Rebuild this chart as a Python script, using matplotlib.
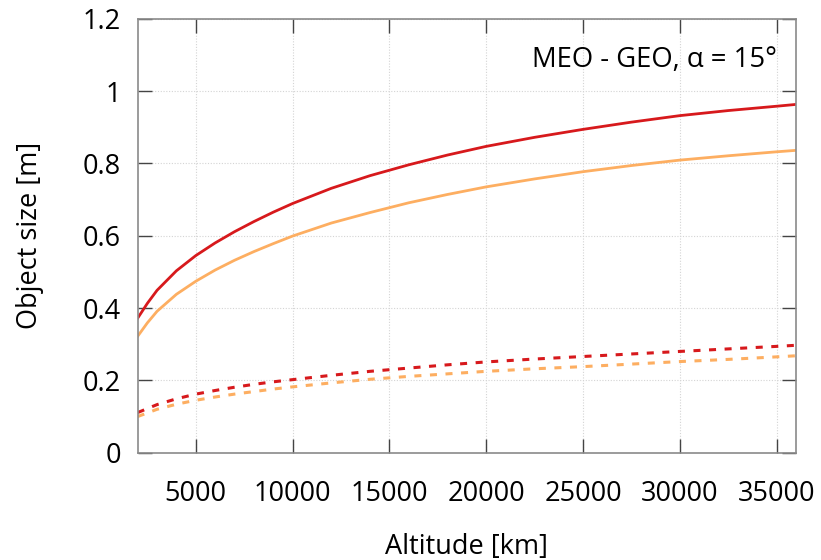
#!/usr/bin/env python3
"""
Minimum detectable object size versus altitude, MEO - GEO, alpha = 15 deg.
"""

import matplotlib
matplotlib.use("Agg")
import matplotlib.pyplot as plt
from matplotlib.ticker import FormatStrFormatter

# altitude samples [km]
altitude = [2000, 2500, 3000, 4000, 5000, 6000, 7000, 8000, 9000, 10000,
            12000, 14000, 16000, 18000, 20000, 22500, 25000, 27500, 30000,
            32500, 35000, 36000]

# object size [m]
red_solid = [0.372, 0.413, 0.449, 0.503, 0.545, 0.580, 0.611, 0.639, 0.665, 0.689,
             0.731, 0.766, 0.796, 0.823, 0.847, 0.872, 0.894, 0.914, 0.932,
             0.946, 0.958, 0.963]
orange_solid = [0.322, 0.359, 0.391, 0.438, 0.474, 0.505, 0.532, 0.556, 0.578, 0.599,
                0.635, 0.664, 0.691, 0.714, 0.735, 0.757, 0.777, 0.794, 0.809,
                0.821, 0.832, 0.836]
red_dashed = [0.111, 0.122, 0.133, 0.149, 0.162, 0.172, 0.181, 0.189, 0.196, 0.202,
              0.214, 0.225, 0.234, 0.243, 0.251, 0.259, 0.266, 0.273, 0.280,
              0.287, 0.294, 0.297]
orange_dashed = [0.100, 0.110, 0.120, 0.134, 0.145, 0.154, 0.162, 0.169, 0.176, 0.182,
                 0.193, 0.203, 0.211, 0.218, 0.225, 0.232, 0.238, 0.245, 0.252,
                 0.258, 0.265, 0.268]

x_ticks = [5000, 10000, 15000, 20000, 25000, 30000, 35000]
y_ticks = [0, 0.2, 0.4, 0.6, 0.8, 1.0, 1.2]

RED = "#d7191c"
ORANGE = "#fdae61"


def main():
    plt.rcParams["font.family"] = ["Open Sans", "DejaVu Sans"]
    plt.rcParams["font.size"] = 19.5

    fig = plt.figure(figsize=(8.21, 5.6), dpi=100)
    ax = fig.add_axes([0.1677, 0.1916, 0.8018, 0.775])

    ax.plot(altitude, red_solid, color=RED, lw=2.0)
    ax.plot(altitude, orange_solid, color=ORANGE, lw=2.0)
    ax.plot(altitude, red_dashed, color=RED, lw=2.2, dashes=(2.3, 2.8))
    ax.plot(altitude, orange_dashed, color=ORANGE, lw=2.2, dashes=(2.3, 2.8))

    ax.set_xlim(2000, 36000)
    ax.set_ylim(0, 1.2)
    ax.set_xticks(x_ticks)
    ax.set_yticks(y_ticks)
    ax.yaxis.set_major_formatter(FormatStrFormatter("%g"))

    ax.grid(True, color="#d4d4d4", linestyle=(0, (1, 1.5)), lw=0.8)
    ax.set_axisbelow(True)
    for sp in ax.spines.values():
        sp.set_color("#8a8a8a")
        sp.set_linewidth(1.2)

    ax.tick_params(axis="both", direction="in", length=10, width=1.0,
                   color="#444444", top=True, right=True)
    ax.tick_params(axis="x", pad=20)
    ax.tick_params(axis="y", pad=12)

    ax.set_xlabel("Altitude [km]", labelpad=18)
    ax.set_ylabel("Object size [m]", labelpad=28)

    ax.text(0.971, 0.905, "MEO - GEO, α = 15°", transform=ax.transAxes,
            ha="right", va="center", fontsize=19.8)

    fig.savefig("out.png", dpi=100)


if __name__ == "__main__":
    main()
